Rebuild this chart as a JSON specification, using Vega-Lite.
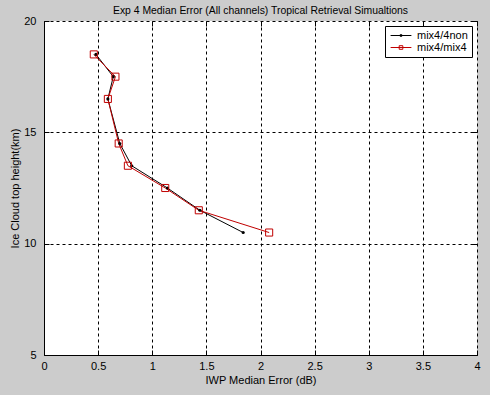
{
  "$schema": "https://vega.github.io/schema/vega-lite/v6.json",
  "width": 433,
  "height": 334,
  "autosize": {"type": "none"},
  "padding": {"left": 44, "top": 21, "right": 13, "bottom": 40},
  "background": "#cccccc",
  "view": {"fill": "white", "stroke": null},
  "title": {
    "text": "Exp 4 Median Error (All channels) Tropical Retrieval Simualtions",
    "font": "Liberation Sans",
    "fontSize": 10.4,
    "fontWeight": "normal",
    "color": "black",
    "offset": -1
  },
  "data": {
    "values": [
      {"series": "mix4/4non", "err": 0.48, "height": 18.5},
      {"series": "mix4/4non", "err": 0.64, "height": 17.5},
      {"series": "mix4/4non", "err": 0.59, "height": 16.5},
      {"series": "mix4/4non", "err": 0.70, "height": 14.5},
      {"series": "mix4/4non", "err": 0.81, "height": 13.5},
      {"series": "mix4/4non", "err": 1.14, "height": 12.5},
      {"series": "mix4/4non", "err": 1.44, "height": 11.5},
      {"series": "mix4/4non", "err": 1.84, "height": 10.5},
      {"series": "mix4/mix4", "err": 0.46, "height": 18.5},
      {"series": "mix4/mix4", "err": 0.66, "height": 17.5},
      {"series": "mix4/mix4", "err": 0.59, "height": 16.5},
      {"series": "mix4/mix4", "err": 0.69, "height": 14.5},
      {"series": "mix4/mix4", "err": 0.775, "height": 13.5},
      {"series": "mix4/mix4", "err": 1.12, "height": 12.5},
      {"series": "mix4/mix4", "err": 1.43, "height": 11.5},
      {"series": "mix4/mix4", "err": 2.08, "height": 10.5}
    ]
  },
  "config": {
    "axis": {
      "labelFont": "Liberation Sans",
      "labelFontSize": 11,
      "labelColor": "black",
      "titleFont": "Liberation Sans",
      "titleFontSize": 11,
      "titleFontWeight": "normal",
      "titleColor": "black",
      "domainColor": "black",
      "tickColor": "black",
      "tickSize": -5,
      "labelFlush": false,
      "labelOverlap": false,
      "gridColor": "black",
      "gridOpacity": 1,
      "gridDash": [3, 3],
      "gridWidth": 1
    }
  },
  "resolve": {"axis": {"x": "independent", "y": "independent"}},
  "layer": [
    {
      "mark": {"type": "line", "strokeWidth": 1},
      "encoding": {
        "x": {
          "field": "err", "type": "quantitative",
          "scale": {"domain": [0, 4], "nice": false, "zero": false},
          "axis": {"title": "IWP Median Error (dB)", "values": [0, 0.5, 1, 1.5, 2, 2.5, 3, 3.5, 4], "format": "~g", "grid": true, "labelPadding": 10, "titlePadding": 3}
        },
        "y": {
          "field": "height", "type": "quantitative",
          "scale": {"domain": [5, 20], "nice": false, "zero": false},
          "axis": {"title": "Ice Cloud top height(km)", "values": [5, 10, 15, 20], "grid": true, "labelPadding": 13, "titlePadding": 3}
        },
        "color": {
          "field": "series", "type": "nominal",
          "scale": {"domain": ["mix4/4non", "mix4/mix4"], "range": ["black", "#c00000"]},
          "legend": {
            "orient": "top-right",
            "offset": 5,
            "title": null,
            "fillColor": "white",
            "strokeColor": "black",
            "cornerRadius": 0,
            "padding": 4,
            "rowPadding": 0,
            "labelFont": "Liberation Sans",
            "labelFontSize": 11,
            "labelColor": "black",
            "labelOffset": 10.5,
            "labelExpr": "datum.label + '\u00a0\u00a0'",
            "symbolSize": 64,
            "symbolOffset": 6.5,
            "symbolStrokeWidth": 1,
            "symbolType": "M-2.6,0H2.6",
            "encode": {
              "symbols": {
                "update": {
                  "shape": {"signal": "datum.value === 'mix4/4non' ? 'M-2.6,0H2.6M-0.2,-0.2H0.2V0.2H-0.2Z' : 'M-2.6,0H2.6M-0.45,-0.45H0.45V0.45H-0.45Z'"},
                  "fill": {"signal": "datum.value === 'mix4/4non' ? 'black' : 'transparent'"},
                  "stroke": {"signal": "datum.value === 'mix4/4non' ? 'black' : '#c00000'"},
                  "opacity": {"value": 1}
                }
              }
            }
          }
        },
        "order": {"field": "height", "sort": "descending"}
      }
    },
    {
      "transform": [{"filter": "datum.series === 'mix4/4non'"}],
      "mark": {"type": "circle", "size": 10, "color": "black", "opacity": 1},
      "encoding": {
        "x": {
          "field": "err", "type": "quantitative",
          "axis": {"orient": "top", "title": null, "labels": false, "domain": false, "grid": false, "values": [0, 0.5, 1, 1.5, 2, 2.5, 3, 3.5, 4]}
        },
        "y": {
          "field": "height", "type": "quantitative",
          "axis": {"orient": "right", "title": null, "labels": false, "domain": false, "grid": false, "values": [5, 10, 15, 20]}
        }
      }
    },
    {
      "transform": [{"filter": "datum.series === 'mix4/mix4'"}],
      "mark": {"type": "square", "size": 50, "filled": false, "color": "#c00000", "strokeWidth": 1, "opacity": 1},
      "encoding": {
        "x": {"field": "err", "type": "quantitative", "axis": null},
        "y": {"field": "height", "type": "quantitative", "axis": null}
      }
    }
  ]
}
